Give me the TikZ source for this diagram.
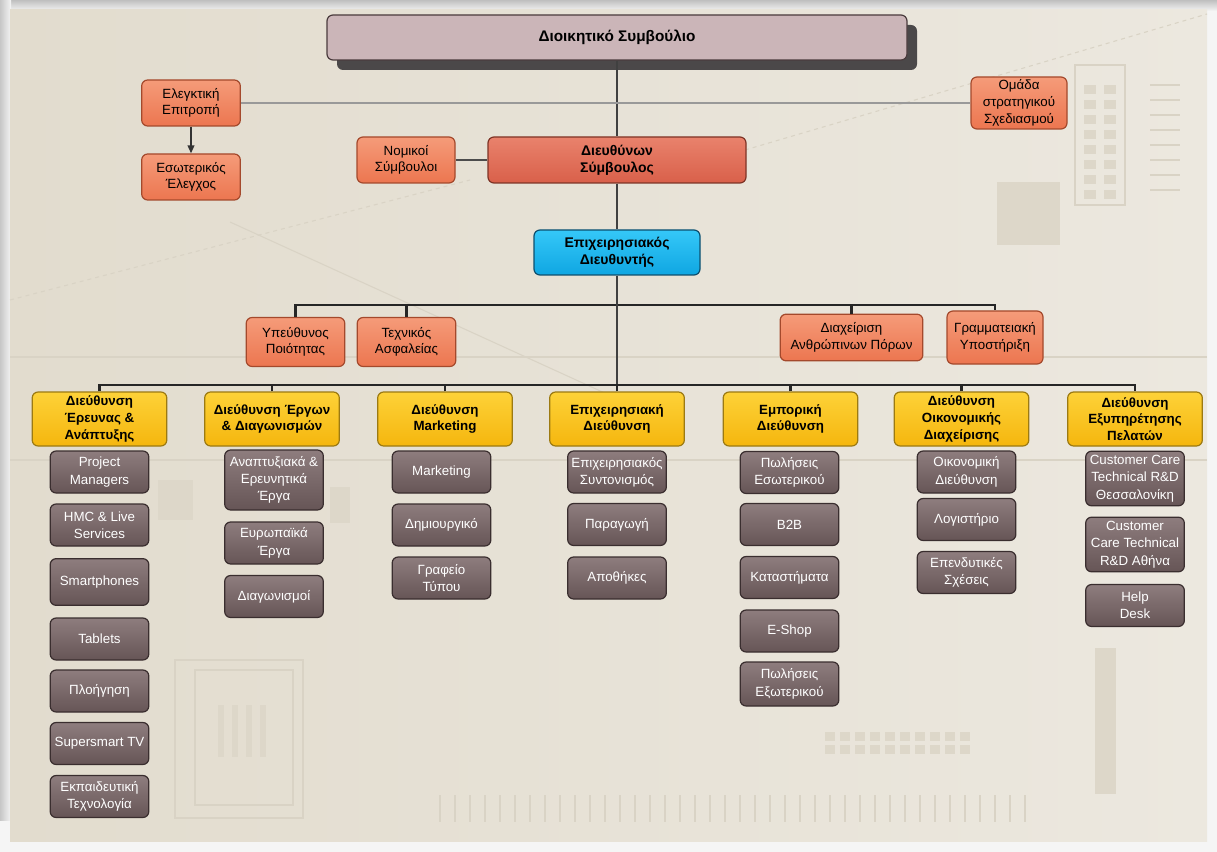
\documentclass[tikz,border=0pt]{standalone}
\usepackage{fontspec}
\setmainfont{Liberation Sans}
\usetikzlibrary{arrows.meta,positioning,shadows}

\begin{document}
\begin{tikzpicture}[x=0.75pt,y=-0.75pt,
  box/.style={draw, rounded corners=4.5pt, line width=0.9pt, align=center, inner sep=2pt,
    font=\fontsize{10}{12.5}\selectfont},
  boardbox/.style={box, fill=boardpink, draw=boardedge, minimum width=435pt, minimum height=33.75pt,
    font=\fontsize{11.5}{14}\selectfont\bfseries,
    drop shadow={shadow xshift=7.5pt, shadow yshift=-7.5pt, fill=boardshadow, opacity=1}},
  staffbox/.style={box, top color=staffhi, bottom color=stafflo, draw=staffedge,
    minimum width=74pt, minimum height=34.5pt},
  ceobox/.style={box, top color=ceohi, bottom color=ceolo, draw=ceoedge,
    minimum width=193.5pt, minimum height=34.5pt, font=\fontsize{10.5}{13}\selectfont\bfseries},
  opbox/.style={box, top color=ophi, bottom color=oplo, draw=opedge,
    minimum width=124.5pt, minimum height=33.75pt, font=\fontsize{10.5}{13}\selectfont\bfseries},
  deptbox/.style={box, top color=depthi, bottom color=deptlo, draw=deptedge,
    minimum width=101pt, minimum height=40.5pt, font=\fontsize{10}{12.5}\selectfont\bfseries},
  unitbox/.style={box, top color=unithi, bottom color=unitlo, draw=unitedge, text=white,
    minimum width=74pt, minimum height=31.5pt, font=\fontsize{10}{13}\selectfont},
  busline/.style={line width=1.7pt, draw=black!85},
  mainline/.style={line width=1.3pt, draw=black!75},
  sideline/.style={line width=1.2pt, draw=black!40},
  decor/.style={draw=decorline, line width=0.8pt},
  ]
\definecolor{panelleft}{HTML}{E2DCCE}
\definecolor{panelright}{HTML}{ECE8DF}
\definecolor{decorline}{HTML}{D9D3C5}
\definecolor{decorfill}{HTML}{DDD7C9}
\definecolor{boardpink}{HTML}{CBB5B8}
\definecolor{boardedge}{HTML}{4A3B3D}
\definecolor{boardshadow}{HTML}{4B4849}
\definecolor{staffhi}{HTML}{F59B79}
\definecolor{stafflo}{HTML}{EC7650}
\definecolor{staffedge}{HTML}{A4492C}
\definecolor{ceohi}{HTML}{E9826C}
\definecolor{ceolo}{HTML}{D9604A}
\definecolor{ceoedge}{HTML}{7E3426}
\definecolor{ophi}{HTML}{35C8F8}
\definecolor{oplo}{HTML}{0FA6E2}
\definecolor{opedge}{HTML}{0D4F6E}
\definecolor{depthi}{HTML}{FDD238}
\definecolor{deptlo}{HTML}{F5B60E}
\definecolor{deptedge}{HTML}{9C7A12}
\definecolor{unithi}{HTML}{8E7D7E}
\definecolor{unitlo}{HTML}{665556}
\definecolor{unitedge}{HTML}{3A2E2F}

\useasboundingbox (0,0) rectangle (1217,852);

% frame and panel
\fill[white!96!black] (0,0) rectangle (1217,852);
\fill[top color=black!25, bottom color=white!96!black] (0,0) rectangle (1217,11);
\fill[left color=black!22, right color=white!96!black] (0,0) rectangle (11,820);
\fill[left color=panelleft, right color=panelright] (10,10) rectangle (1207,841);

% faint background pattern
\draw[decor, dashed] (745,150) -- (1207,14);
\draw[decor, dashed] (10,300) -- (470,180);
\draw[decor] (230,222) -- (620,400);
\draw[decor] (10,357) -- (1207,357);
\draw[decor] (10,460) -- (1207,460);
\fill[decorfill] (997,182) rectangle (1060,245);
\draw[decor] (1075,65) rectangle (1125,205);
\foreach \yy in {85,100,...,195} {
  \fill[decorfill] (1084,\yy) rectangle (1096,\yy+9);
  \fill[decorfill] (1104,\yy) rectangle (1116,\yy+9);
  \draw[decor] (1150,\yy) -- (1180,\yy);
}
\fill[decorfill] (158,480) rectangle (193,520);
\fill[decorfill] (330,487) rectangle (350,523);
\draw[decor] (175,660) rectangle (303,818);
\draw[decor] (195,670) rectangle (293,805);
\foreach \xx in {218,232,...,262} {
  \fill[decorfill] (\xx,705) rectangle (\xx+6,757);
}
\foreach \xx in {440,455,...,1030} {
  \draw[decor] (\xx,795) -- (\xx,822);
}
\foreach \xx in {825,840,...,960} {
  \fill[decorfill] (\xx,732) rectangle (\xx+10,741);
  \fill[decorfill] (\xx,745) rectangle (\xx+10,754);
}
\fill[decorfill] (1095,648) rectangle (1116,794);

% board and top staff
\node[boardbox] (board) at (617,37.5) {Διοικητικό Συμβούλιο};
\node[staffbox] (audit) at (191,103) {Ελεγκτική\\Επιτροπή};
\node[staffbox] (internal) at (191,177) {Εσωτερικός\\Έλεγχος};
\node[staffbox, minimum width=72pt, minimum height=39pt] (strategy) at (1019,103) {Ομάδα\\στρατηγικού\\Σχεδιασμού};
\node[staffbox, minimum width=73.5pt] (legal) at (406,160) {Νομικοί\\Σύμβουλοι};
\node[ceobox] (ceo) at (617,160) {Διευθύνων\\Σύμβουλος};
\node[opbox] (opdir) at (617,252.5) {Επιχειρησιακός\\Διευθυντής};

\draw[mainline] (board.south) -- (ceo.north);
\draw[mainline] (ceo.south) -- (opdir.north);
\draw[sideline] (audit.east) -- (strategy.west);
\draw[line width=1pt, draw=black!70] (legal.east) -- (ceo.west);
\draw[line width=1.2pt, draw=black!80, -{Triangle[length=6pt,width=5pt]}] (audit.south) -- (internal.north);

% staff under operations director
\coordinate (bus1) at (617,305);
\node[staffbox, minimum height=36.75pt] (quality) at (295.5,342) {Υπεύθυνος\\Ποιότητας};
\node[staffbox, minimum height=36.75pt] (safety) at (406.5,342) {Τεχνικός\\Ασφαλείας};
\node[staffbox, minimum width=107pt, minimum height=35pt] (hr) at (851.5,337.5) {Διαχείριση\\Ανθρώπινων Πόρων};
\node[staffbox, minimum width=72pt, minimum height=39.75pt] (secr) at (995,337.5) {Γραμματειακή\\Υποστήριξη};

\draw[busline] (quality.north) |- (bus1) -| (secr.north);
\draw[busline] (safety.north) -- (safety.north |- bus1);
\draw[busline] (hr.north) -- (hr.north |- bus1);

% departments
\coordinate (bus2) at (617,385);
\node[deptbox] (d1) at (99.5,419) {Διεύθυνση\\Έρευνας \&\\Ανάπτυξης};
\node[deptbox] (d2) at (272,419) {Διεύθυνση Έργων\\\& Διαγωνισμών};
\node[deptbox] (d3) at (445,419) {Διεύθυνση\\Marketing};
\node[deptbox] (d4) at (617,419) {Επιχειρησιακή\\Διεύθυνση};
\node[deptbox] (d5) at (790.5,419) {Εμπορική\\Διεύθυνση};
\node[deptbox] (d6) at (961.5,419) {Διεύθυνση\\Οικονομικής\\Διαχείρισης};
\node[deptbox] (d7) at (1135,419) {Διεύθυνση\\Εξυπηρέτησης\\Πελατών};

\draw[mainline] (opdir.south) -- (bus2);
\draw[busline] (d1.north) |- (bus2) -| (d7.north);
\foreach \d in {d2,d3,d4,d5,d6}
  \draw[busline] (\d.north) -- (\d.north |- bus2);

% units: research & development
\node[unitbox] (pm) at (99.5,472) {Project\\Managers};
\node[unitbox] (hmc) at (99.5,525) {HMC \& Live\\Services};
\node[unitbox, minimum height=35pt] (phones) at (99.5,582) {Smartphones};
\node[unitbox] (tablets) at (99.5,639) {Tablets};
\node[unitbox] (nav) at (99.5,691) {Πλοήγηση};
\node[unitbox] (tv) at (99.5,743.5) {Supersmart TV};
\node[unitbox] (edu) at (99.5,796.5) {Εκπαιδευτική\\Τεχνολογία};

% units: projects & tenders
\node[unitbox, minimum height=45pt] (devproj) at (274,480) {Αναπτυξιακά \&\\Ερευνητικά\\Έργα};
\node[unitbox] (euproj) at (274,543) {Ευρωπαϊκά\\Έργα};
\node[unitbox] (tenders) at (274,596.5) {Διαγωνισμοί};

% units: marketing
\node[unitbox] (mkt) at (441.5,472) {Marketing};
\node[unitbox] (creative) at (441.5,525) {Δημιουργικό};
\node[unitbox] (press) at (441.5,578) {Γραφείο\\Τύπου};

% units: operations
\node[unitbox] (coord) at (617,472) {Επιχειρησιακός\\Συντονισμός};
\node[unitbox] (prod) at (617,524.5) {Παραγωγή};
\node[unitbox] (stores) at (617,578) {Αποθήκες};

% units: commercial
\node[unitbox] (domsales) at (789.5,472.5) {Πωλήσεις\\Εσωτερικού};
\node[unitbox] (btob) at (789.5,524.5) {B2B};
\node[unitbox] (shops) at (789.5,577.5) {Καταστήματα};
\node[unitbox] (eshop) at (789.5,631) {E-Shop};
\node[unitbox, minimum height=33pt] (expsales) at (789.5,684) {Πωλήσεις\\Εξωτερικού};

% units: finance
\node[unitbox] (findir) at (966.5,472) {Οικονομική\\Διεύθυνση};
\node[unitbox] (acct) at (966.5,519.5) {Λογιστήριο};
\node[unitbox] (invrel) at (966.5,572.5) {Επενδυτικές\\Σχέσεις};

% units: customer service
\node[unitbox, minimum height=41pt] (ccthes) at (1135,478.5) {Customer Care\\Technical R\&D\\Θεσσαλονίκη};
\node[unitbox, minimum height=41pt] (ccath) at (1135,544.5) {Customer\\Care Technical\\R\&D Αθήνα};
\node[unitbox] (help) at (1135,605.5) {Help\\Desk};
\end{tikzpicture}
\end{document}
